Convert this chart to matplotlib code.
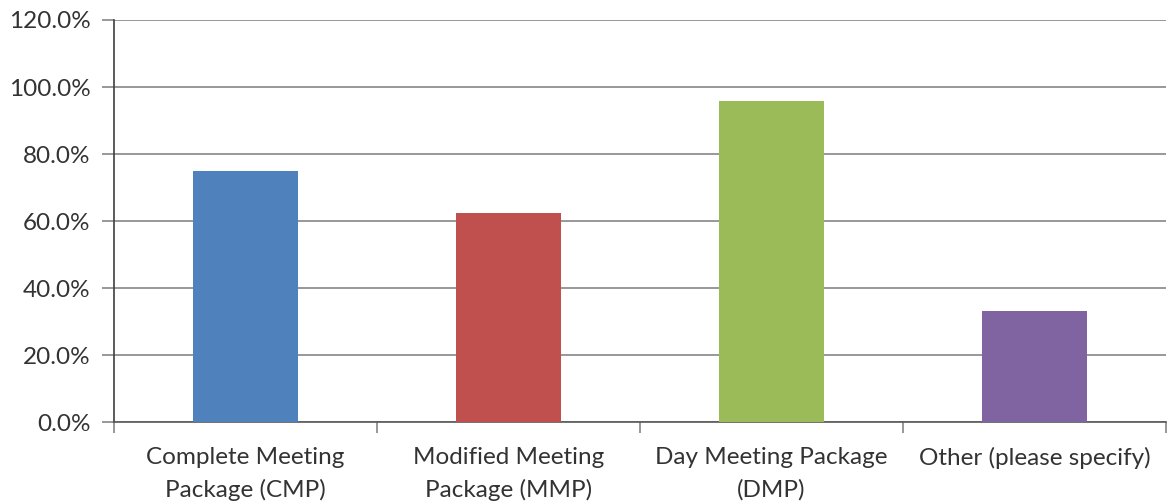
import matplotlib.pyplot as plt
import numpy as np
from matplotlib.ticker import FuncFormatter

categories = ["Complete Meeting\nPackage (CMP)", "Modified Meeting\nPackage (MMP)",
              "Day Meeting Package\n(DMP)", "Other (please specify)"]
values = [75.0, 62.5, 95.8, 33.3]
colors = ["#4F81BD", "#C0504D", "#9BBB59", "#8064A2"]
y_ticks = [0, 20, 40, 60, 80, 100, 120]

plt.rcParams['font.family'] = ['Lato', 'DejaVu Sans']

fig = plt.figure(figsize=(11.68, 5.04), dpi=100)
ax = fig.add_axes([114 / 1168, 1 - 422.3 / 504, (1166 - 114) / 1168, (422.3 - 20) / 504])

x = np.arange(len(categories))
ax.bar(x, values, width=0.4, color=colors, zorder=3)

ax.set_ylim(0, 120)
ax.set_xlim(-0.5, len(categories) - 0.5)
ax.set_yticks(y_ticks)
ax.yaxis.set_major_formatter(FuncFormatter(lambda v, p: f"{v:.1f}%"))
ax.grid(axis="y", color="#868686", linewidth=1.2, zorder=0)

ax.set_xticks(x)
ax.set_xticklabels(categories, linespacing=1.6)
ax.set_xticks(np.arange(len(categories) + 1) - 0.5, minor=True)
ax.tick_params(axis="x", which="major", length=0, pad=18, labelsize=17.5, labelcolor="#333333")
ax.tick_params(axis="x", which="minor", length=8, width=1.2, color="#868686")
ax.tick_params(axis="y", length=9, width=1.2, color="#868686", labelsize=17.5, labelcolor="#333333", pad=8)

for s in ["top", "right"]:
    ax.spines[s].set_visible(False)
ax.spines["left"].set_color("#404040")
ax.spines["bottom"].set_color("#595959")
ax.spines["left"].set_linewidth(1.2)
ax.spines["bottom"].set_linewidth(1.2)

fig.savefig("out.png", dpi=100)
